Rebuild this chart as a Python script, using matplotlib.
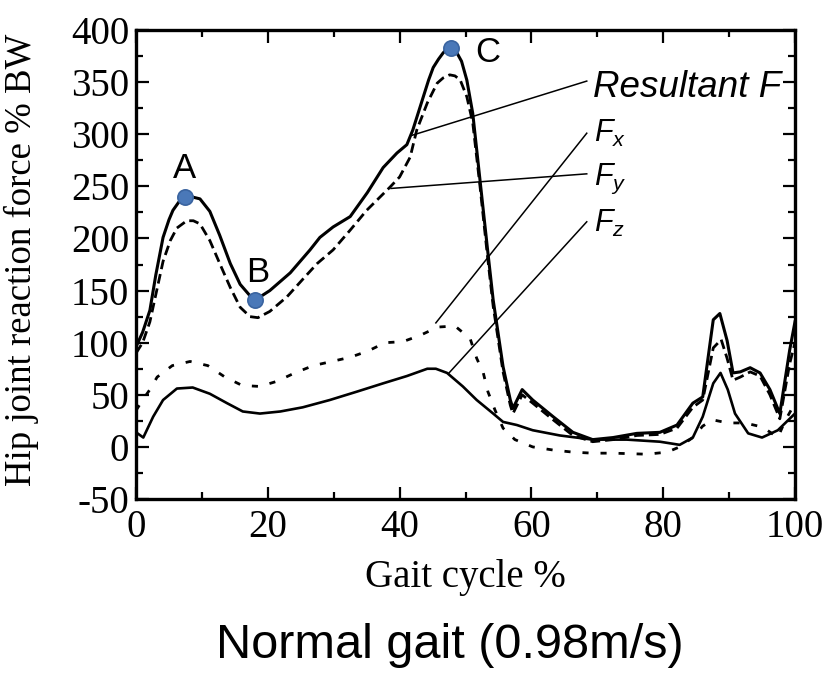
import matplotlib
matplotlib.use("Agg")
import matplotlib.pyplot as plt
from matplotlib.ticker import MultipleLocator

# gait cycle % and force (% BW)
res_x = [0, 1, 2.1, 3, 4.1, 5.0, 5.6, 6.5, 7.4, 8.4, 9.7, 11.2, 12.7, 14.3, 15.8, 17.3,
         18.1, 20.3, 23.4, 26.4, 27.9, 29.9, 32.5, 35.1, 37.5, 39.6, 41.1, 42.0, 43.6,
         44.4, 45.1, 45.9, 46.6, 47.2, 47.8, 48.3, 48.7, 49.4, 50.2, 51.1, 52.2, 53.3,
         54.2, 55.7, 56.8, 57.2, 58.6, 60.2, 63.3, 66.3, 69.3, 72.4, 76, 79.5, 82.1,
         84.5, 86, 87.6, 88.6, 89.7, 90.6, 91.7, 93.2, 94.7, 96.2, 97.7, 99.2, 100]
res_y = [96, 110, 131, 165, 201, 218, 227, 235, 240, 240, 238, 226, 203, 176, 156, 145,
         141, 150, 167, 189, 201, 211, 221, 244, 268, 282, 290, 304, 336,
         352, 364, 372, 378, 382, 383, 381, 378, 370, 352, 320, 256, 192,
         141, 77, 45, 37, 55, 45, 29, 14, 7, 9, 13, 14, 21,
         42, 48, 122, 128, 102, 71, 72, 76, 71, 55, 32, 93, 120]

fy_x = [0, 1, 2.1, 4.1, 5.2, 6.2, 7.7, 8.7, 9.7, 11.2, 12.7, 14.3, 15.8, 17.3, 18.5,
        20.3, 22.9, 25.9, 27.5, 29.9, 32.5, 35, 38.5, 40, 41.6, 42.6, 44.2, 45.7, 46.6,
        47.6, 48.4, 49.2, 50.2, 51.1, 52.2, 53.3, 54.2, 55.7, 56.8, 57.2, 58.6, 60.2,
        63.3, 66.3, 69.3, 72.4, 76, 79.5, 82.1, 84.5, 86, 87.6, 88.8, 89.7, 90.6, 91.7,
        93.2, 94.7, 96.2, 97.7, 99.2, 100]
fy_y = [90, 100, 120, 178, 198, 210, 217, 217, 214, 198, 176, 153, 134, 125, 124,
        130, 144, 165, 176, 189, 208, 227, 249, 259, 278, 304, 330, 349, 354,
        357, 356, 352, 336, 311, 250, 185, 135, 72, 40, 32, 50, 42,
        26, 11, 5, 7, 11, 12, 18, 38, 45, 95, 103, 85, 64, 67,
        72, 68, 50, 27, 80, 100]

fx_x = [0, 1, 2.1, 3.2, 5.5, 8.2, 10.9, 13.5, 16.1, 18.8, 21.4, 24.1, 26.9, 29.7,
        32.5, 35.2, 37.8, 40.5, 43.1, 45.8, 48.4, 50.7, 51.7, 52.7, 53.4, 54.5, 55.7,
        57.5, 60.2, 63.3, 66.3, 69.3, 72.4, 75, 77.5, 80.6, 82.5, 84.5, 86, 87.5, 89.8,
        92.4, 95.1, 97.4, 98.5, 100]
fx_y = [35, 45, 55, 67, 78, 82, 78, 67, 59, 58, 63, 71, 78, 82,
        86, 92, 100, 101, 107, 115, 116, 104, 85, 71, 53, 35, 18,
        7, 0, -3, -5, -6, -6, -6.5, -7, -5, 0, 9, 20, 26, 23,
        23, 19, 9, 25, 42]

fz_x = [0, 1.1, 2.6, 4.1, 6.2, 8.6, 11.2, 13.8, 16.2, 18.8, 21.9, 25.3, 29.4, 33.5,
        37.5, 41.1, 44.2, 45.5, 47.2, 49.6, 51.7, 54.2, 55.7, 57.8, 60.2, 64.3, 69.3,
        74.5, 79.5, 82.5, 84.5, 86, 87.6, 88.7, 89.8, 90.9, 92.9, 95, 97.4, 100]
fz_y = [14, 9, 29, 45, 56, 57, 51, 42, 34, 32, 34, 38, 45, 53,
        61, 68, 75, 75, 71, 58, 45, 32, 24, 21, 16, 11, 7,
        7, 5, 2, 9, 29, 61, 71, 55, 32, 13, 9, 16, 32]

# marked points A, B, C on the resultant
pt_names = ["A", "B", "C"]
pt_x = [7.4, 18.1, 47.8]
pt_y = [240, 141, 383]

serif = "Liberation Serif"
sans = "Liberation Sans"
plt.rcParams["axes.unicode_minus"] = False
plt.rcParams["mathtext.fontset"] = "custom"
plt.rcParams["mathtext.it"] = "Liberation Sans:italic"
plt.rcParams["mathtext.rm"] = "Liberation Sans"

fig = plt.figure(figsize=(8.3, 6.73), dpi=100)
ax = fig.add_axes([0.1639, 0.2585, 0.7939, 0.6969])

ax.plot(res_x, res_y, color="black", lw=2.2)
ax.plot(fy_x, fy_y, color="black", lw=2.0, dashes=(3.5, 1.8))
ax.plot(fx_x, fx_y, color="black", lw=2.0, dashes=(2.2, 4.3))
ax.plot(fz_x, fz_y, color="black", lw=1.9)

ax.plot(pt_x, pt_y, "o", ms=11, color="#4a78b8", mec="#3a64a0", mew=1.2, zorder=5)
name_pos = [(7.4, 258), (18.4, 158), (53.4, 369)]
for name, (tx, ty) in zip(pt_names, name_pos):
    ax.text(tx, ty, name, family=sans, fontsize=25, ha="center", va="baseline")

# leader lines and series labels
ax.plot([68.4, 41.9], [351, 299], color="black", lw=1.1)
ax.plot([68.4, 45.5], [301, 119], color="black", lw=1.1)
ax.plot([68.4, 38.7], [262, 248], color="black", lw=1.1)
ax.plot([68.4, 47.5], [216, 71], color="black", lw=1.1)
ax.text(69.3, 336, "Resultant F", family=sans, style="italic", fontsize=26.5, va="baseline")
ax.text(69.5, 292.5, r"$F_x$", fontsize=22, va="baseline")
ax.text(69.5, 251, r"$F_y$", fontsize=22, va="baseline")
ax.text(69.5, 206, r"$F_z$", fontsize=22, va="baseline")

ax.set_xlim(0, 100)
ax.set_ylim(-50, 400)
ax.xaxis.set_major_locator(MultipleLocator(20))
ax.xaxis.set_minor_locator(MultipleLocator(10))
ax.yaxis.set_major_locator(MultipleLocator(50))
ax.yaxis.set_minor_locator(MultipleLocator(25))
ax.tick_params(which="both", direction="in", top=True, right=True, width=1.6)
ax.tick_params(which="major", length=9, labelsize=28)
ax.tick_params(which="minor", length=5)
ax.tick_params(axis="x", which="major", pad=7)
ax.tick_params(axis="y", which="major", pad=5)
for lab in ax.get_xticklabels() + ax.get_yticklabels():
    lab.set_family(serif)
for sp in ax.spines.values():
    sp.set_linewidth(2.4)

ax.set_xlabel("Gait cycle %", family=serif, fontsize=28)
ax.set_ylabel("Hip joint reaction force % BW", family=serif, fontsize=26.5)
ax.xaxis.set_label_coords(0.5, -0.128)
ax.yaxis.set_label_coords(-0.148, 0.51)

fig.text(0.542, 0.0223, "Normal gait (0.98m/s)", family=sans, fontsize=35,
         ha="center", va="baseline")

fig.savefig("out.png", dpi=100)
